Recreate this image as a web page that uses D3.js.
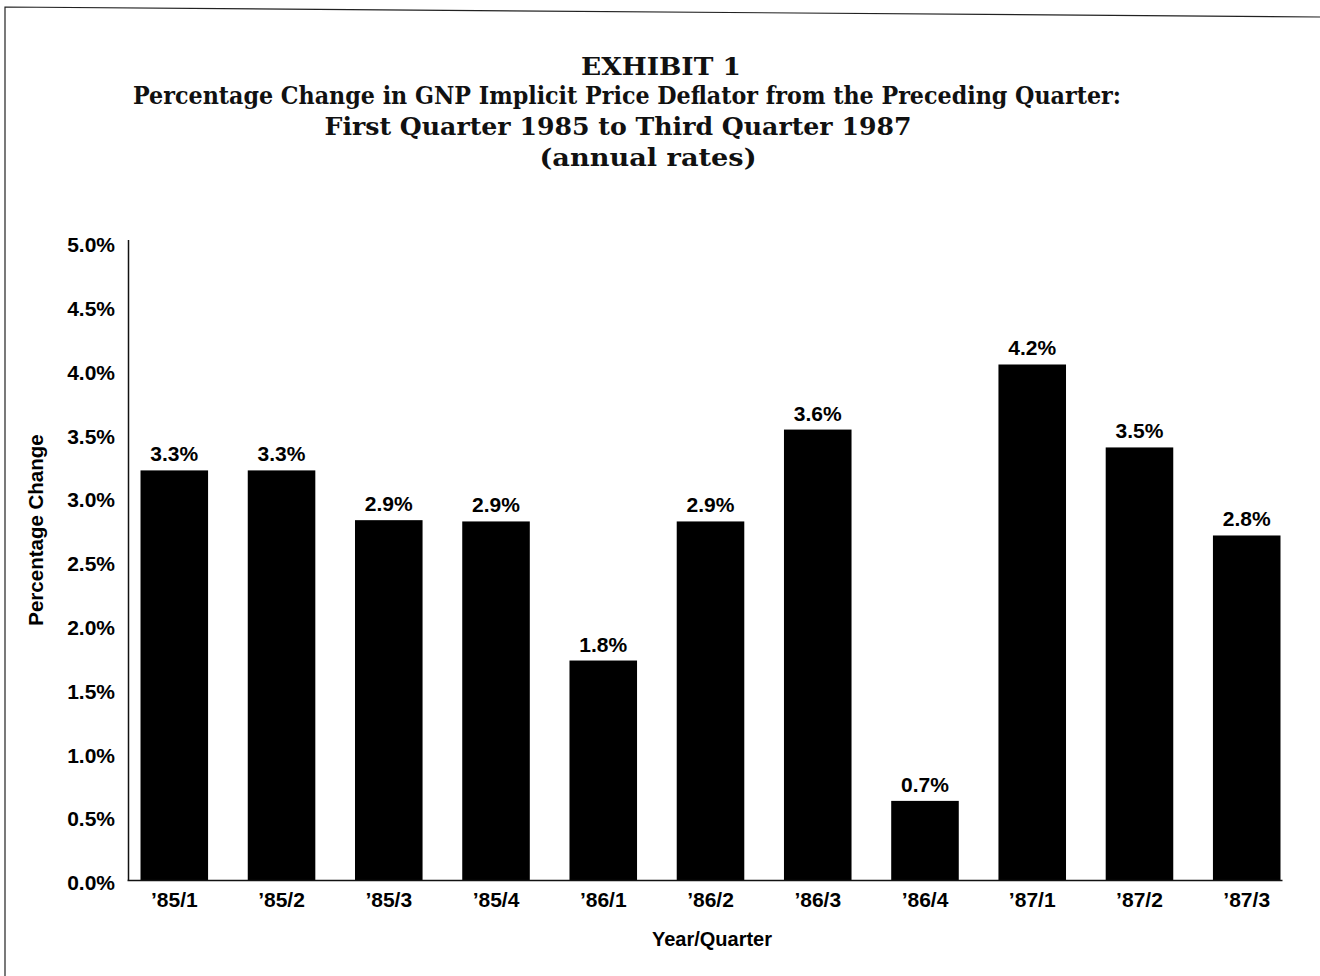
<!DOCTYPE html>
<html><head><meta charset="utf-8">
<script src="https://cdn.jsdelivr.net/npm/d3@7"></script>
<style>body{margin:0;background:#fff}</style>
</head><body><svg id="c" width="1320" height="976"></svg>
<script>
const categories = ["’85/1","’85/2","’85/3","’85/4","’86/1","’86/2","’86/3","’86/4","’87/1","’87/2","’87/3"];
const barValues = [3.21,3.21,2.82,2.81,1.72,2.81,3.53,0.62,4.04,3.39,2.70];
const valueLabels = ["3.3%","3.3%","2.9%","2.9%","1.8%","2.9%","3.6%","0.7%","4.2%","3.5%","2.8%"];
const yTicks = [0,0.5,1,1.5,2,2.5,3,3.5,4,4.5,5];
const titleLines = ["EXHIBIT 1","Percentage Change in GNP Implicit Price Deflator from the Preceding Quarter:","First Quarter 1985 to Third Quarter 1987","(annual rates)"];
const xTitle = "Year/Quarter";
const yTitle = "Percentage Change";

const svg = d3.select("#c");
svg.append("rect").attr("width",1320).attr("height",976).attr("fill","#fff");
svg.append("path").attr("d","M5,976L5,7L1320,17").attr("fill","none").attr("stroke","#222").attr("stroke-width",1.2);

const sans = "'Liberation Sans', Arial, Helvetica, sans-serif";
const serif = "'DejaVu Serif', 'Liberation Serif', serif";

const titlePos = [{x:661,y:75,w:160},{x:627,y:104,w:988},{x:618,y:135,w:587},{x:648,y:166,w:217}];
titleLines.forEach((t,i)=>{
  svg.append("text").attr("x",titlePos[i].x).attr("y",titlePos[i].y)
    .attr("text-anchor","middle").attr("font-family",serif).attr("font-weight","bold")
    .attr("font-size",24).attr("textLength",titlePos[i].w).attr("lengthAdjust","spacingAndGlyphs")
    .attr("fill","#111").text(t);
});

const y = d3.scaleLinear().domain([0,5]).range([880,242]);
const x = d3.scaleBand().domain(categories).range([127,1282])
  .paddingInner(0.37).paddingOuter(0.07).align(0.9);

svg.append("g").selectAll("rect").data(barValues).join("rect")
  .attr("x",(d,i)=>x(categories[i])).attr("width",x.bandwidth())
  .attr("y",d=>y(d)).attr("height",d=>y(0)-y(d)).attr("fill","#000");

svg.append("g").selectAll("text").data(barValues).join("text")
  .attr("x",(d,i)=>x(categories[i])+x.bandwidth()/2).attr("y",d=>y(d)-9)
  .attr("text-anchor","middle").attr("font-family",sans).attr("font-weight","bold")
  .attr("font-size",21).attr("fill","#000").text((d,i)=>valueLabels[i]);

const yAxis = svg.append("g").attr("transform","translate(128,0)")
  .call(d3.axisLeft(y).tickValues(yTicks).tickSize(0).tickPadding(13).tickFormat(d=>d.toFixed(1)+"%"));
yAxis.select(".domain").attr("stroke","#111").attr("stroke-width",1.5).attr("d","M0.5,880V240");
yAxis.selectAll("text").attr("font-family",sans).attr("font-weight","bold").attr("font-size",21).attr("fill","#000").attr("dy","0.46em");

const xAxis = svg.append("g").attr("transform","translate(0,880)")
  .call(d3.axisBottom(x).tickSize(0).tickPadding(12));
xAxis.select(".domain").attr("stroke","#111").attr("stroke-width",1.5);
xAxis.selectAll("text").attr("font-family",sans).attr("font-weight","bold").attr("font-size",21).attr("fill","#000");

svg.append("text").attr("x",712).attr("y",946).attr("text-anchor","middle")
  .attr("font-family",sans).attr("font-weight","bold").attr("font-size",20).text(xTitle);
svg.append("text").attr("transform","translate(43,530) rotate(-90)").attr("text-anchor","middle")
  .attr("font-family",sans).attr("font-weight","bold").attr("font-size",20.5).text(yTitle);
</script></body></html>
